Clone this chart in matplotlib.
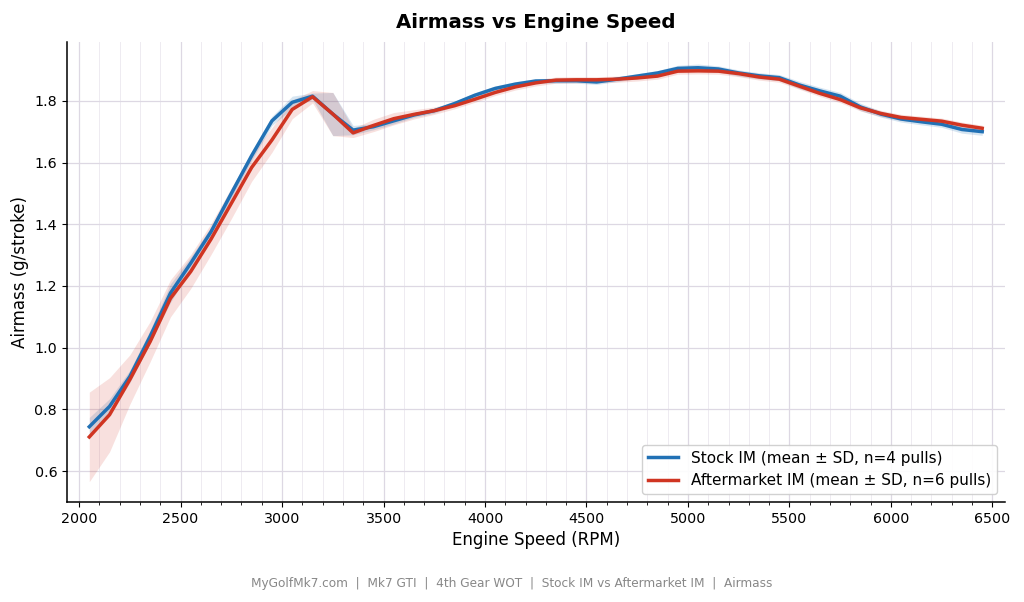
import matplotlib
matplotlib.use("Agg")
import matplotlib.pyplot as plt
from matplotlib.ticker import MultipleLocator
import numpy as np

rpm = [2050, 2150, 2250, 2350, 2450, 2550, 2650, 2750, 2850, 2950,
       3050, 3150, 3250, 3350, 3450, 3550, 3650, 3750, 3850, 3950,
       4050, 4150, 4250, 4350, 4450, 4550, 4650, 4750, 4850, 4950,
       5050, 5150, 5250, 5350, 5450, 5550, 5650, 5750, 5850, 5950,
       6050, 6150, 6250, 6350, 6450]

stock_mean = [0.744, 0.810, 0.907, 1.037, 1.177, 1.274, 1.376, 1.500, 1.622, 1.735,
              1.795, 1.815, 1.757, 1.705, 1.716, 1.735, 1.754, 1.768, 1.791, 1.818,
              1.840, 1.854, 1.864, 1.865, 1.865, 1.861, 1.870, 1.880, 1.890, 1.905,
              1.907, 1.903, 1.890, 1.881, 1.875, 1.851, 1.832, 1.815, 1.780, 1.757,
              1.741, 1.732, 1.724, 1.707, 1.700]
stock_sd = [0.030, 0.025, 0.020, 0.020, 0.030, 0.020, 0.015, 0.015, 0.015, 0.015,
            0.020, 0.010, 0.070, 0.015, 0.010, 0.010, 0.008, 0.008, 0.008, 0.008,
            0.008, 0.008, 0.008, 0.008, 0.008, 0.008, 0.008, 0.008, 0.008, 0.010,
            0.012, 0.010, 0.010, 0.010, 0.010, 0.012, 0.012, 0.012, 0.012, 0.010,
            0.010, 0.010, 0.010, 0.012, 0.012]

after_mean = [0.711, 0.783, 0.897, 1.020, 1.160, 1.247, 1.352, 1.468, 1.584, 1.673,
              1.772, 1.813, 1.757, 1.696, 1.720, 1.742, 1.756, 1.768, 1.784, 1.805,
              1.827, 1.845, 1.858, 1.867, 1.868, 1.868, 1.870, 1.874, 1.880, 1.896,
              1.897, 1.896, 1.888, 1.877, 1.870, 1.847, 1.824, 1.804, 1.777, 1.759,
              1.746, 1.740, 1.734, 1.721, 1.711]
after_sd = [0.145, 0.120, 0.080, 0.065, 0.060, 0.055, 0.050, 0.050, 0.045, 0.040,
            0.030, 0.020, 0.070, 0.015, 0.020, 0.020, 0.015, 0.012, 0.010, 0.010,
            0.010, 0.010, 0.010, 0.010, 0.010, 0.010, 0.010, 0.010, 0.010, 0.010,
            0.010, 0.010, 0.010, 0.010, 0.010, 0.010, 0.010, 0.010, 0.010, 0.010,
            0.010, 0.010, 0.010, 0.010, 0.010]

labels = ["Stock IM (mean \u00b1 SD, n=4 pulls)",
          "Aftermarket IM (mean \u00b1 SD, n=6 pulls)"]
title = "Airmass vs Engine Speed"
footer = "MyGolfMk7.com  |  Mk7 GTI  |  4th Gear WOT  |  Stock IM vs Aftermarket IM  |  Airmass"

blue = "#2171b5"
red = "#d03522"

fig = plt.figure(figsize=(10.24, 6.02), dpi=100)
ax = fig.add_axes([0.0654, 0.166, 0.9156, 0.764])

x = np.array(rpm)
for mean, sd, c, lab, a in [(stock_mean, stock_sd, blue, labels[0], 0.18),
                             (after_mean, after_sd, red, labels[1], 0.15)]:
    m = np.array(mean)
    s = np.array(sd)
    ax.fill_between(x, m - s, m + s, color=c, alpha=a, linewidth=0)
    ax.plot(x, m, color=c, linewidth=2.5, label=lab)

ax.set_xlim(1940, 6560)
ax.set_ylim(0.50, 1.99)
ax.xaxis.set_major_locator(MultipleLocator(500))
ax.xaxis.set_minor_locator(MultipleLocator(100))
ax.yaxis.set_major_locator(MultipleLocator(0.2))
ax.grid(True, which="major", color="#ddd8e3", linewidth=0.9)
ax.grid(True, which="minor", axis="x", color="#eeebf1", linewidth=0.7)
ax.set_axisbelow(True)

for sp in ["top", "right"]:
    ax.spines[sp].set_visible(False)
ax.spines["left"].set_linewidth(1.1)
ax.spines["bottom"].set_linewidth(1.1)
ax.tick_params(axis="both", labelsize=10.3)

ax.set_title(title, fontsize=14.2, fontweight="bold", pad=10)
ax.set_xlabel("Engine Speed (RPM)", fontsize=12)
ax.set_ylabel("Airmass (g/stroke)", fontsize=12)

ax.legend(loc="lower right", fontsize=11, framealpha=0.9, edgecolor="#cccccc")

fig.text(0.5, 0.030, footer, ha="center", va="center", fontsize=8.7, color="#888888")

fig.savefig("out.png", dpi=100)
